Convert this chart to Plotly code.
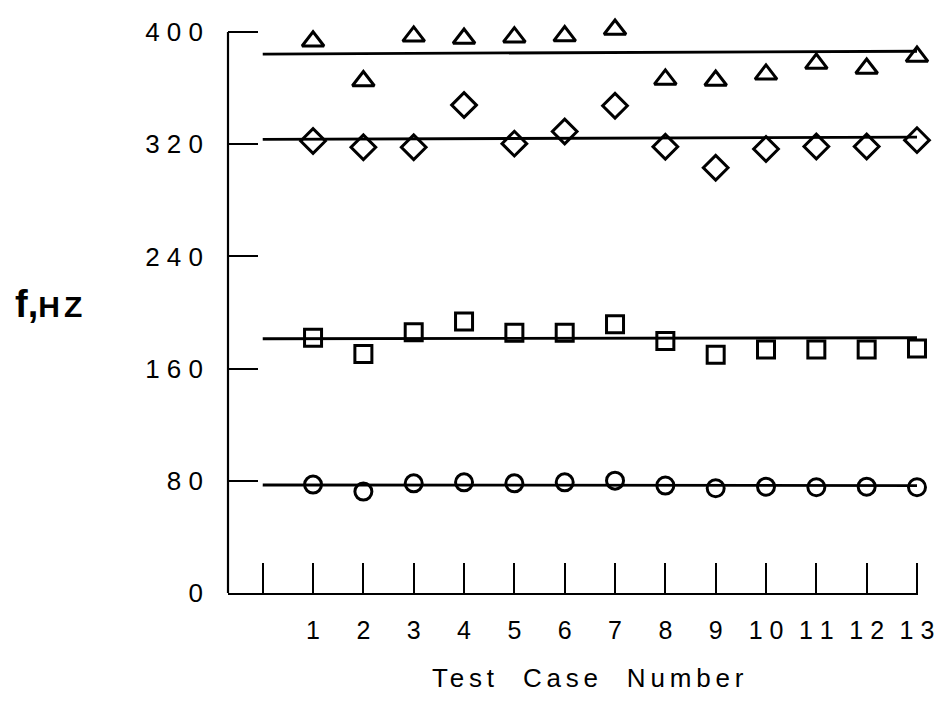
import plotly.graph_objects as go

# ---- data ----
cases = list(range(1, 14))
tri_vals = [393.4, 365.1, 396.9, 395.4, 396.3, 397.1, 401.8, 366.2, 365.4, 369.8, 377.5, 374.0, 382.5]
dia_vals = [322.3, 317.8, 317.8, 347.9, 320.4, 329.1, 347.4, 318.2, 303.2, 316.6, 318.4, 318.4, 322.9]
sq_vals = [182.0, 170.5, 186.0, 193.5, 185.5, 185.5, 191.7, 179.6, 169.8, 173.6, 173.6, 173.6, 174.4]
circ_vals = [77.3, 72.3, 78.2, 78.9, 78.2, 78.9, 80.1, 76.6, 74.7, 75.8, 75.4, 75.8, 75.4]

# fitted mean lines (start, end values), spanning case 0 .. 13
fit_x = [0, 13]
tri_fit = [384.3, 386.3]
dia_fit = [323.5, 325.0]
sq_fit = [181.3, 182.0]
circ_fit = [77.0, 76.6]

y_axis_span = [0, 400]
y_tickvals = [0, 80, 160, 240, 320, 400]
y_ticktext = ["0", "8 0", "1 6 0", "2 4 0", "3 2 0", "4 0 0"]
x_tickvals = list(range(0, 14))
x_ticktext = [""] + [str(c) for c in cases[:9]] + ["1 0", "1 1", "1 2", "1 3"]

FONT = "Liberation Sans, Arial, Helvetica, sans-serif"

fig = go.Figure()

for fy in (tri_fit, dia_fit, sq_fit, circ_fit):
    fig.add_trace(go.Scatter(x=fit_x, y=fy, mode="lines",
                             line=dict(color="black", width=2.8),
                             showlegend=False, hoverinfo="skip", cliponaxis=False))

series = [
    (tri_vals, "triangle-up-open", 19),
    (dia_vals, "diamond-open", 19),
    (sq_vals, "square-open", 17),
    (circ_vals, "circle-open", 17),
]
for vals, sym, sz in series:
    fig.add_trace(go.Scatter(
        x=cases, y=vals, mode="markers",
        marker=dict(symbol=sym, size=sz, color="black",
                    line=dict(color="black", width=3)),
        showlegend=False, cliponaxis=False))

# page body has an 8px margin, so the figure is shrunk by that amount
fig.update_layout(
    width=935, height=703,
    margin=dict(l=220, r=21, t=9, b=118),
    paper_bgcolor="white", plot_bgcolor="white",
    font=dict(family=FONT, color="black"),
    showlegend=False,
)

fig.update_xaxes(
    range=[-0.69, 13.02], showgrid=False, zeroline=False,
    showline=True, linecolor="black", linewidth=2.2,
    ticks="inside", ticklen=30, tickwidth=2.2, tickcolor="black",
    tickvals=x_tickvals, ticktext=x_ticktext,
    tickfont=dict(size=25, family=FONT, color="black"),
    ticklabelstandoff=14,
)
fig.update_yaxes(
    range=[0, 405], showgrid=False, zeroline=False,
    showline=False,
    ticks="inside", ticklen=30, tickwidth=2.2, tickcolor="black",
    tickvals=y_tickvals, ticktext=y_ticktext,
    tickfont=dict(size=26, family=FONT, color="black"),
    ticklabelstandoff=24,
)

# y axis line only from 0 to 400
fig.add_shape(type="line", xref="paper", yref="y", x0=0, x1=0,
              y0=y_axis_span[0], y1=y_axis_span[1],
              line=dict(color="black", width=2.2))

fig.add_annotation(
    text='<span style="letter-spacing:4.8px">Test&nbsp;&nbsp;Case&nbsp;&nbsp;Number</span>',
    xref="paper", yref="paper", x=0.525, y=-0.149,
    xanchor="center", yanchor="middle", showarrow=False,
    font=dict(size=26, family=FONT, color="black"))

fig.add_annotation(
    text='<b>f,</b><b><span style="font-size:30px;letter-spacing:4px">HZ</span></b>',
    xref="paper", yref="paper", x=-0.312, y=0.509,
    xanchor="left", yanchor="middle", showarrow=False,
    font=dict(size=38, family=FONT, color="black"))

fig.write_html("out.html")
